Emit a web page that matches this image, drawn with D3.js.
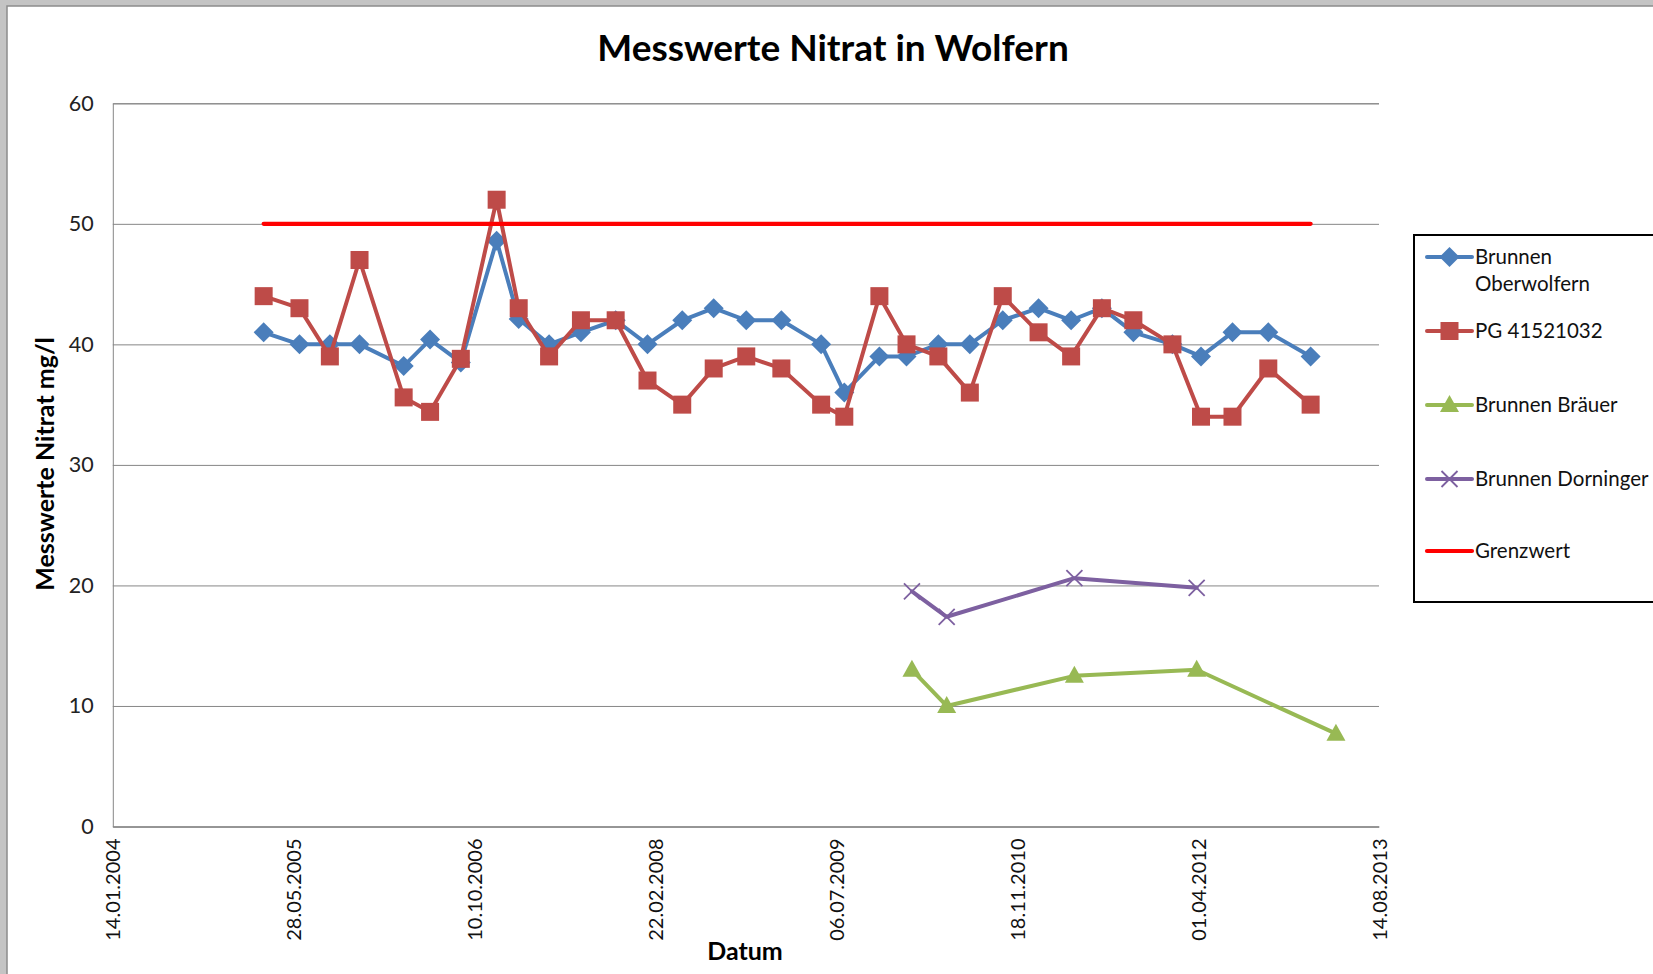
<!DOCTYPE html>
<html>
<head>
<meta charset="utf-8">
<script src="https://cdn.jsdelivr.net/npm/d3@7"></script>
<style>
  body { margin: 0; background: #fff; }
  svg { display: block; font-family: Lato, "Open Sans", sans-serif; }
</style>
</head>
<body>
<svg id="chart"></svg>
<script>
// sampling dates of Brunnen Oberwolfern / PG 41521032
const datesMain = ["06.03.2005", "13.06.2005", "05.09.2005", "26.11.2005", "28.03.2006", "09.06.2006",
  "02.09.2006", "10.12.2006", "09.02.2007", "04.05.2007", "31.07.2007", "04.11.2007", "31.01.2008",
  "06.05.2008", "01.08.2008", "30.10.2008", "04.02.2009", "25.05.2009", "28.07.2009", "02.11.2009",
  "16.01.2010", "14.04.2010", "10.07.2010", "09.10.2010", "16.01.2011", "16.04.2011", "10.07.2011",
  "05.10.2011", "21.01.2012", "09.04.2012", "05.07.2012", "12.10.2012", "06.02.2013"];
const oberwolfern = [41, 40, 40, 40, 38.2, 40.4, 38.5, 48.6, 42.1, 40, 41, 42, 40, 42, 43, 42, 42, 40, 36,
  39, 39, 40, 40, 42, 43, 42, 43, 41, 40, 39, 41, 41, 39];
const pg41521032 = [44, 43, 39, 47, 35.6, 34.4, 38.8, 52, 43, 39, 42, 42, 37, 35, 38, 39, 38, 35, 34,
  44, 40, 39, 36, 44, 41, 39, 43, 42, 40, 34, 34, 38, 35];

const datesBraeuer = ["31.01.2010", "07.05.2010", "25.04.2011", "28.03.2012", "17.04.2013"];
const braeuer = [13, 10, 12.5, 13, 7.7];

const datesDorninger = ["31.01.2010", "07.05.2010", "25.04.2011", "28.03.2012"];
const dorninger = [19.5, 17.4, 20.6, 19.8];

const grenzDates = ["06.03.2005", "06.02.2013"];
const grenzwert = [50, 50];

const xTickLabels = ["14.01.2004", "28.05.2005", "10.10.2006", "22.02.2008", "06.07.2009",
  "18.11.2010", "01.04.2012", "14.08.2013"];
const yTicks = [0, 10, 20, 30, 40, 50, 60];

const width = 1653;
const height = 974;
const margin = {top: 103.3, right: 274, bottom: 147.5, left: 112.8};

const parse = d3.timeParse("%d.%m.%Y");
const fmt = d3.timeFormat("%d.%m.%Y");

const svg = d3.select("#chart")
              .attr("width", width)
              .attr("height", height);

// outer frame
svg.append("rect").attr("width", width).attr("height", height).attr("fill", "#c4c4c4");
svg.append("rect")
    .attr("x", 7).attr("y", 6)
    .attr("width", width).attr("height", height)
    .attr("fill", "#fff")
    .attr("stroke", "#8c8c8c")
    .attr("stroke-width", 1.5);

const xTickDates = xTickLabels.map(parse);
const x = d3.scaleTime()
            .domain([xTickDates[0], xTickDates[xTickDates.length - 1]])
            .range([margin.left, width - margin.right]);
const y = d3.scaleLinear()
            .domain([0, 60])
            .range([height - margin.bottom, margin.top]);

// grid
svg.append("g")
    .attr("transform", `translate(${margin.left},0)`)
    .call(d3.axisLeft(y).tickValues(yTicks).tickSize(-(width - margin.right - margin.left)).tickPadding(19))
    .call(g => g.select(".domain").attr("stroke", "#868686"))
    .call(g => g.selectAll(".tick line").attr("stroke", "#868686"))
    .call(g => g.selectAll(".tick text")
        .attr("font-size", 21.5)
        .attr("fill", "#222")
        .attr("font-family", "Lato, sans-serif"));

svg.append("g")
    .attr("transform", `translate(0,${height - margin.bottom})`)
    .call(d3.axisBottom(x).tickValues(xTickDates).tickFormat(fmt).tickSize(0))
    .call(g => g.select(".domain").attr("stroke", "#868686"))
    .call(g => g.selectAll(".tick text")
        .attr("font-size", 20)
        .attr("fill", "#111")
        .attr("font-family", "Lato, sans-serif")
        .attr("text-anchor", "end")
        .attr("dy", "0.35em")
        .attr("transform", "translate(0,12) rotate(-90)")
        .attr("x", 0).attr("y", 0));

// series
const series = [
  {name: "Brunnen Oberwolfern", dates: datesMain, values: oberwolfern, color: "#4a7ebb", marker: "diamond"},
  {name: "PG 41521032", dates: datesMain, values: pg41521032, color: "#be4b48", marker: "square"},
  {name: "Brunnen Bräuer", dates: datesBraeuer, values: braeuer, color: "#98b954", marker: "triangle"},
  {name: "Brunnen Dorninger", dates: datesDorninger, values: dorninger, color: "#7d60a0", marker: "cross"},
  {name: "Grenzwert", dates: grenzDates, values: grenzwert, color: "#ff0000", marker: null}
];

const line = d3.line()
               .x(d => x(d.date))
               .y(d => y(d.value));

function drawMarker(g, type, color, cx, cy) {
  if (type === "diamond") {
    g.append("path")
      .attr("d", `M${cx},${cy - 10}L${cx + 10},${cy}L${cx},${cy + 10}L${cx - 10},${cy}Z`)
      .attr("fill", color);
  } else if (type === "square") {
    g.append("rect")
      .attr("x", cx - 9).attr("y", cy - 9)
      .attr("width", 18).attr("height", 18)
      .attr("fill", color);
  } else if (type === "triangle") {
    g.append("path")
      .attr("d", `M${cx},${cy - 10}L${cx + 9.5},${cy + 7}L${cx - 9.5},${cy + 7}Z`)
      .attr("fill", color);
  } else if (type === "cross") {
    g.append("path")
      .attr("d", `M${cx - 8},${cy - 8}L${cx + 8},${cy + 8}M${cx - 8},${cy + 8}L${cx + 8},${cy - 8}`)
      .attr("stroke", color)
      .attr("stroke-width", 1.8)
      .attr("fill", "none");
  }
}

series.forEach(s => {
  const data = s.dates.map((dt, i) => ({date: parse(dt), value: s.values[i]}));
  const g = svg.append("g");
  g.append("path")
    .datum(data)
    .attr("fill", "none")
    .attr("stroke", s.color)
    .attr("stroke-width", s.marker ? 4 : 4.2)
    .attr("stroke-linejoin", "round")
    .attr("stroke-linecap", "round")
    .attr("d", line);
  if (s.marker) {
    data.forEach(d => drawMarker(g, s.marker, s.color, x(d.date), y(d.value)));
  }
});

// titles
svg.append("text")
    .attr("x", 833).attr("y", 61)
    .attr("text-anchor", "middle")
    .attr("font-size", 37)
    .attr("font-weight", "bold")
    .attr("fill", "#000")
    .text("Messwerte Nitrat in Wolfern");

svg.append("text")
    .attr("x", 745).attr("y", 960)
    .attr("text-anchor", "middle")
    .attr("font-size", 25)
    .attr("font-weight", "bold")
    .text("Datum");

svg.append("text")
    .attr("transform", "translate(54,464) rotate(-90)")
    .attr("text-anchor", "middle")
    .attr("font-size", 25)
    .attr("font-weight", "bold")
    .text("Messwerte Nitrat mg/l");

// legend
const legend = svg.append("g");
legend.append("rect")
    .attr("x", 1414).attr("y", 235)
    .attr("width", 300).attr("height", 367)
    .attr("fill", "#fff")
    .attr("stroke", "#000")
    .attr("stroke-width", 2);

const legendY = [257, 331, 405, 479, 551];
series.forEach((s, i) => {
  const ly = legendY[i];
  legend.append("line")
    .attr("x1", 1427).attr("x2", 1472)
    .attr("y1", ly).attr("y2", ly)
    .attr("stroke", s.color)
    .attr("stroke-width", s.marker ? 4 : 4.2)
    .attr("stroke-linecap", "round");
  if (s.marker) drawMarker(legend, s.marker, s.color, 1449.5, ly);
  const words = s.name === "Brunnen Oberwolfern" ? ["Brunnen", "Oberwolfern"] : [s.name];
  const t = legend.append("text")
    .attr("x", 1475).attr("y", ly + 7)
    .attr("font-size", 20.5)
    .attr("fill", "#111");
  words.forEach((w, j) => t.append("tspan").attr("x", 1475).attr("dy", j ? 27 : 0).text(w));
});
</script>
</body>
</html>
